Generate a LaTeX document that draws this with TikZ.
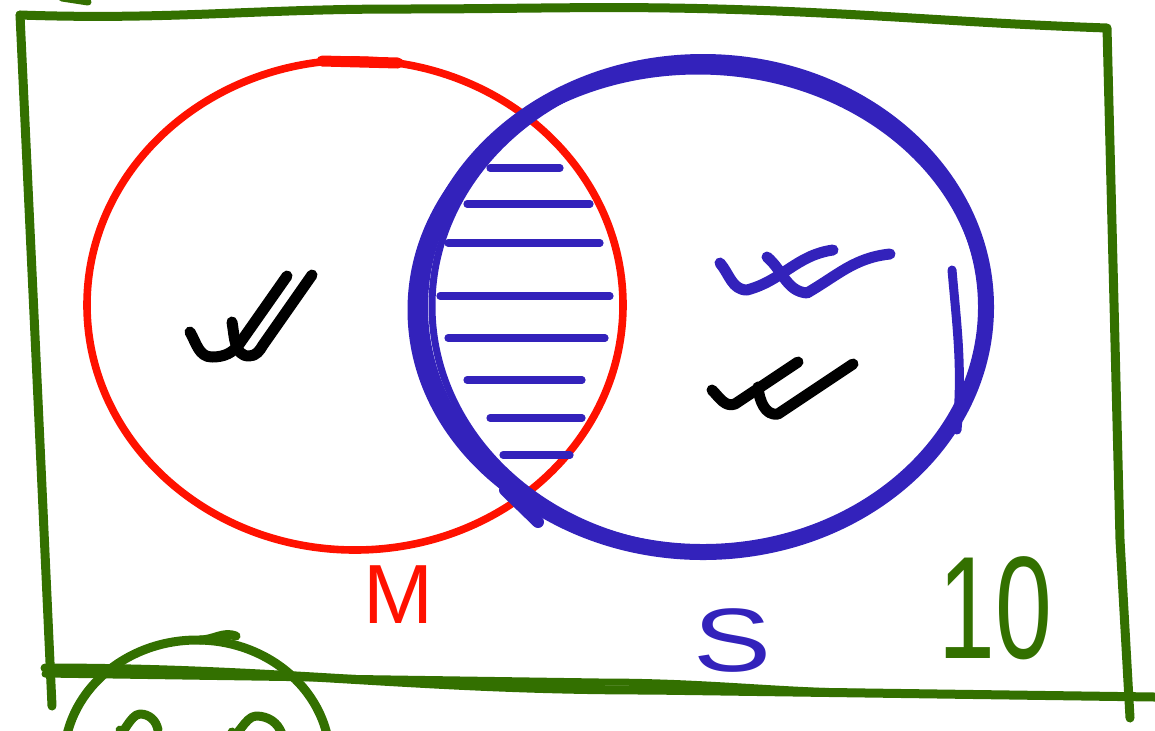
\documentclass[tikz,border=0pt]{standalone}
\usepackage{fontspec}
\setmainfont{Liberation Sans}
\definecolor{framegreen}{RGB}{51,112,0}
\definecolor{setred}{RGB}{255,17,0}
\definecolor{setblue}{RGB}{51,34,187}
\begin{document}
\begin{tikzpicture}[
    x=0.5pt, y=-0.5pt,
    frame/.style={draw=framegreen, line width=4.5pt, line cap=round, line join=round},
    mset/.style={draw=setred, line width=3.8pt, line cap=round},
    sset/.style={draw=setblue, line width=8pt, line cap=round},
    hatch/.style={draw=setblue, line width=3.6pt, line cap=round},
    tick/.style={line width=5.5pt, line cap=round, line join=round},
    label/.style={inner sep=0pt, font=\fontsize{42}{48}\selectfont}
]
    \useasboundingbox (0,0) rectangle (1155,730);

    % --- UNIVERSAL SET ---
    \draw[frame] (20,15) to[out=-2,in=180] (400,9) to[out=0,in=178] (750,10)
        to[out=-2,in=178] (1107,28) -- (1120,540) -- (1130,718);
    \draw[frame] (20,15) -- (38,400) -- (52,706);
    \draw[frame] (45,668) to[out=0,in=180] (650,690) -- (1155,697);
    \draw[frame, line width=3.5pt] (45,674) -- (600,682) to[out=0,in=180] (900,693);
    \draw[frame, line width=3.5pt] (62,-2) -- (88,2);
    % partial set below the frame
    \draw[frame] (197,760) ellipse [x radius=133, y radius=120];
    \draw[frame] (200,640) to[out=0,in=160] (236,636);
    \draw[frame] (120,730) to[out=-80,in=180] (140,714) to[out=0,in=100] (158,730);
    \draw[frame] (232,732) to[out=-70,in=180] (256,716) to[out=0,in=110] (282,734);

    % --- SET M ---
    \draw[mset] (355,305) ellipse [x radius=268, y radius=245];
    \draw[mset, line width=5.5pt] (322,61) -- (398,63);

    % --- SET S ---
    \draw[sset] (703,307) ellipse [x radius=283, y radius=245];
    \draw[draw=setblue, line width=3.5pt] (708,306) ellipse [x radius=276, y radius=243];
    \draw[draw=setblue, line width=4.5pt] (698,310) ellipse [x radius=286, y radius=240];
    \draw[draw=setblue, line width=4.5pt, line cap=round] (952,270) to[out=-85,in=85] (957,430);
    \draw[sset, line width=6pt] (505,490) -- (538,522);

    % intersection M and S
    \foreach \y/\xa/\xb in {168/490/560, 204/467/590, 243/448/600, 296/440/610,
                            338/448/605, 380/467/582, 418/490/582, 455/503/570}
        \draw[hatch] (\xa,\y) -- (\xb,\y);

    % --- ELEMENTS ---
    \draw[tick] (190,332) to[out=-60,in=180] (212,357) to[out=0,in=-125] (240,343) -- (287,276);
    \draw[tick] (232,322) to[out=-80,in=180] (249,356) to[out=0,in=-120] (263,345) -- (312,275);

    \draw[tick, setblue] (720,263) to[out=-50,in=180] (747,290) to[out=15,in=188] (833,250);
    \draw[tick, setblue] (767,257) to[out=-40,in=175] (807,293) to[out=30,in=186] (890,254);

    \draw[tick] (712,390) to[out=-45,in=200] (735,404) -- (798,362);
    \draw[tick] (758,387) to[out=-85,in=190] (778,414) -- (853,364);

    % --- LABELS ---
    \node[label, text=setred] (mlabel) at (398,595) {M};
    \node[label, text=setblue, font=\fontsize{45}{50}\selectfont] (slabel) at (733,640) {\scalebox{1.3}[1]{S}};
    \node[label, text=framegreen, font=\fontsize{73}{80}\selectfont] (ulabel) at (995,608) {\scalebox{0.7}[1]{10}};
\end{tikzpicture}
\end{document}
